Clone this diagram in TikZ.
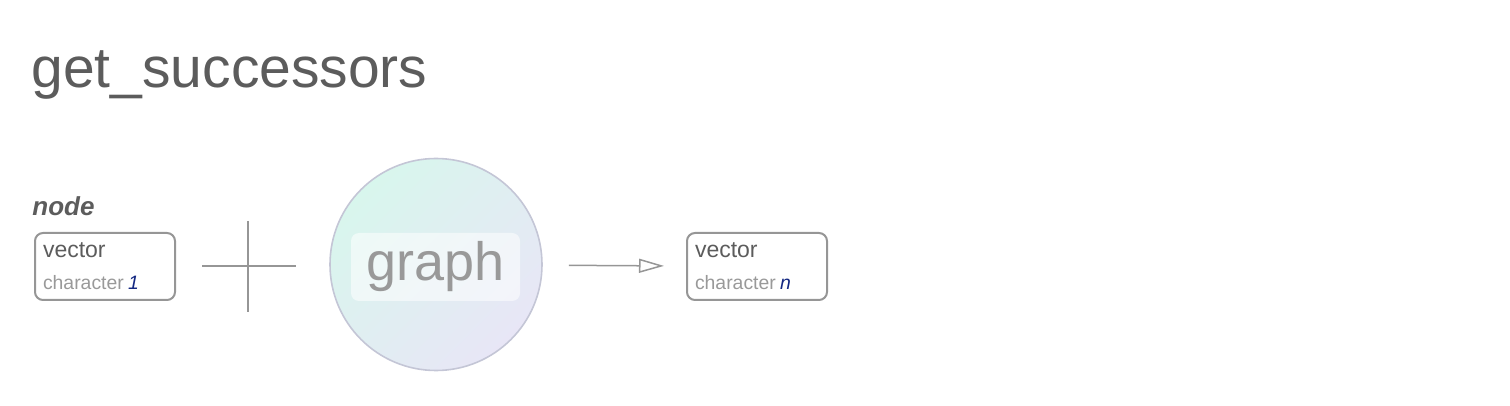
\documentclass[tikz,border=0pt]{standalone}
\usepackage{fontspec}
\setmainfont{Liberation Sans}
\usetikzlibrary{arrows.meta,positioning,shapes.geometric}
\definecolor{ink}{RGB}{92,92,92}
\definecolor{muted}{RGB}{153,153,153}
\definecolor{rule}{RGB}{150,150,150}
\definecolor{navy}{RGB}{20,40,130}
\definecolor{mint}{RGB}{216,246,237}
\definecolor{lilac}{RGB}{232,230,246}
\definecolor{ring}{RGB}{196,198,214}
\newcommand{\typeline}[1]{{\fontsize{9.7}{12}\selectfont
  \color{muted}character\hspace{0.22em}\textcolor{navy}{\itshape #1}}}
\begin{document}
\begin{tikzpicture}[x=0.5pt,y=-0.5pt,
      vecbox/.style={draw=rule,line width=1pt,rounded corners=4pt,
        minimum width=70pt,minimum height=33.5pt,
        text width=62pt,align=left,inner xsep=4pt,inner ysep=0pt,
        font=\fontsize{11.5}{15}\selectfont,text=ink},
      graphdisk/.style={circle,draw=ring,line width=0.8pt,
        minimum size=106pt,inner sep=0pt,
        top color=mint,bottom color=lilac,shading angle=45},
      graphtag/.style={fill=white,fill opacity=0.55,text opacity=1,
        rounded corners=4pt,minimum width=84.5pt,minimum height=34pt,
        text=muted,font=\fontsize{27}{30}\selectfont},
      plusline/.style={rule,line width=0.75pt},
      arr/.style={-{Triangle[open,length=12.5pt,width=7pt]},
        rule,line width=0.75pt,shorten <=13pt,shorten >=11pt}
    ]
      \useasboundingbox (0,0) rectangle (1510,406);

      % title and argument name
      \node[anchor=base west,inner sep=0pt,text=ink,
        font=\fontsize{28.5}{32}\selectfont](title) at (31,88){get\_successors};
      \node[anchor=base west,inner sep=0pt,text=ink,
        font=\fontsize{13}{16}\selectfont\bfseries\itshape](arg) at (32,216){node};

      % input vector
      \node[vecbox](v1) at (105,266.5){vector\\[1pt]\typeline{1}};

      % plus sign
      \coordinate (plus) at (248,266);
      \draw[plusline]([xshift=-23pt]plus)--([xshift=24pt]plus);
      \draw[plusline]([yshift=22.5pt]plus)--([yshift=-23pt]plus);

      % graph
      \node[graphdisk](graph) at (436,264.5){};
      \node[graphtag](tag) at (435.5,267){graph};

      % output vector
      \node[vecbox](v2) at (757,266.5){vector\\[1pt]\typeline{n}};

      \draw[arr](graph)--(v2);
    \end{tikzpicture}
\end{document}
